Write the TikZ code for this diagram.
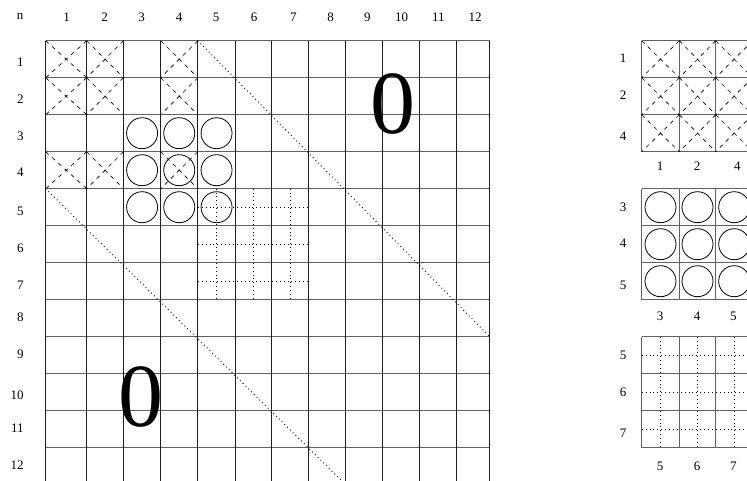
\documentclass[tikz,border=0pt]{standalone}
\usepackage{fontspec}
\setmainfont{Liberation Serif}
\usetikzlibrary{calc}
\begin{document}
\begin{tikzpicture}[x=1pt,y=-1pt,
  hline/.style={black!62,line width=1.1pt},
  vline/.style={black!88,line width=1.1pt},
  sline/.style={black!62,line width=1.2pt},
  xdash/.style={line width=0.65pt,dash pattern=on 4pt off 4.5pt},
  ring/.style={line width=0.8pt},
  dotline/.style={line width=0.9pt,dash pattern=on 0.9pt off 3pt},
  lbl/.style={font=\fontsize{13}{13}\selectfont,inner sep=0pt},
  big/.style={font=\fontsize{90}{90}\selectfont,inner sep=0pt}]
\useasboundingbox (0,0) rectangle (747,481);
\clip (0,0) rectangle (747,481);
% main grid coordinates
\foreach \i/\x in {0/45.7,1/86.7,2/123.5,3/160.7,4/197.8,5/235.3,6/271.7,7/308.6,8/345.7,9/382.7,10/419.7,11/456.7,12/489.7}
  \coordinate (X\i) at (\x,0);
\foreach \j in {0,...,12}
  \coordinate (Y\j) at (0,40.7+37*\j);
% small grid coordinates
\foreach \i/\x in {0/641.7,1/679.3,2/715.7,3/752.7}
  \coordinate (S\i) at (\x,0);
% main grid
\foreach \j in {0,...,12} \draw[hline] (X0|-Y\j) -- (X12|-Y\j);
\foreach \i in {0,...,12} \draw[vline] (X\i|-Y0) -- (X\i|-Y12);
% crosses
\foreach \r/\c/\rp/\cp in {1/1/0/0,1/2/0/1,1/4/0/3,2/1/1/0,2/2/1/1,2/4/1/3,4/1/3/0,4/2/3/1,4/4/3/3}{
  \draw[xdash] (X\cp|-Y\rp) -- (X\c|-Y\r);
  \draw[xdash] (X\c|-Y\rp) -- (X\cp|-Y\r);
}
% circles
\foreach \r/\rp in {3/2,4/3,5/4}
  \foreach \c/\cp in {3/2,4/3,5/4}
    \draw[ring] ($(X\cp|-Y\rp)!0.5!(X\c|-Y\r)$) circle (15.5);
% dotted block
\foreach \r/\rp in {5/4,6/5,7/6}
  \draw[dotline] ($(X4|-Y\rp)!0.5!(X4|-Y\r)$) -- ($(X7|-Y\rp)!0.5!(X7|-Y\r)$);
\foreach \c/\cp in {5/4,6/5,7/6}
  \draw[dotline] ($(X\cp|-Y4)!0.5!(X\c|-Y4)$) -- ($(X\cp|-Y7)!0.5!(X\c|-Y7)$);
% diagonals
\draw[dotline] (X4|-Y0) -- (X12|-Y8);
\draw[dotline] (X0|-Y4) -- (X8|-Y12);
% zeros
\node[big] (zeroU) at (393,104.5) {0};
\node[big] (zeroL) at (141,397) {0};
% main labels
\node[lbl,anchor=base] (ln) at (20,19.5) {n};
\foreach \t/\x in {1/66.5,2/104.5,3/141.7,4/179,5/216,6/254,7/293.3,8/330.7,9/367.3,10/401.7,11/438.3,12/475}
  \node[lbl] (col\t) at (\x,17) {\t};
\foreach \t/\y in {1/62.5,2/99,3/136,4/172.5,5/211,6/248,7/285,8/317,9/354.7,10/395,11/428,12/465}
  \node[lbl,anchor=east] (row\t) at (23.8,\y) {\t};
% small grid 1 (crosses)
\foreach \j in {0,...,3} \draw[sline] (S0|-Y\j) -- (S3|-Y\j);
\foreach \i in {0,...,3} \draw[sline] (S\i|-Y0) -- (S\i|-Y3);
\foreach \r/\rp in {1/0,2/1,3/2}
  \foreach \c/\cp in {1/0,2/1,3/2}{
    \draw[xdash] (S\cp|-Y\rp) -- (S\c|-Y\r);
    \draw[xdash] (S\c|-Y\rp) -- (S\cp|-Y\r);
  }
% small grid 2 (circles)
\foreach \j in {4,...,7} \draw[sline] (S0|-Y\j) -- (S3|-Y\j);
\foreach \i in {0,...,3} \draw[sline] (S\i|-Y4) -- (S\i|-Y7);
\foreach \r/\rp in {5/4,6/5,7/6}
  \foreach \c/\cp in {1/0,2/1,3/2}
    \draw[ring] ($(S\cp|-Y\rp)!0.5!(S\c|-Y\r)$) circle (15.5);
% small grid 3 (dotted)
\foreach \j in {8,...,11} \draw[sline] (S0|-Y\j) -- (S3|-Y\j);
\foreach \i in {0,...,3} \draw[sline] (S\i|-Y8) -- (S\i|-Y11);
\foreach \r/\rp in {9/8,10/9,11/10}
  \draw[dotline] ($(S0|-Y\rp)!0.5!(S0|-Y\r)$) -- ($(S3|-Y\rp)!0.5!(S3|-Y\r)$);
\foreach \c/\cp in {1/0,2/1,3/2}
  \draw[dotline] ($(S\cp|-Y8)!0.5!(S\c|-Y8)$) -- ($(S\cp|-Y11)!0.5!(S\c|-Y11)$);
% small grid labels
\foreach \t/\y [count=\k] in {1/58.3,2/95.3,4/136.7}
  \node[lbl] (sa\k) at (623,\y) {\t};
\foreach \t/\x [count=\k] in {1/660,2/697,4/737.3}
  \node[lbl] (sb\k) at (\x,166) {\t};
\foreach \t/\y [count=\k] in {3/207.3,4/243.3,5/285}
  \node[lbl] (sc\k) at (623,\y) {\t};
\foreach \t/\x [count=\k] in {3/660,4/697,5/733.3}
  \node[lbl] (sd\k) at (\x,316.7) {\t};
\foreach \t/\y [count=\k] in {5/355,6/392,7/433}
  \node[lbl] (se\k) at (623,\y) {\t};
\foreach \t/\x [count=\k] in {5/660,6/697,7/733.3}
  \node[lbl] (sf\k) at (\x,466.7) {\t};
\end{tikzpicture}
\end{document}
